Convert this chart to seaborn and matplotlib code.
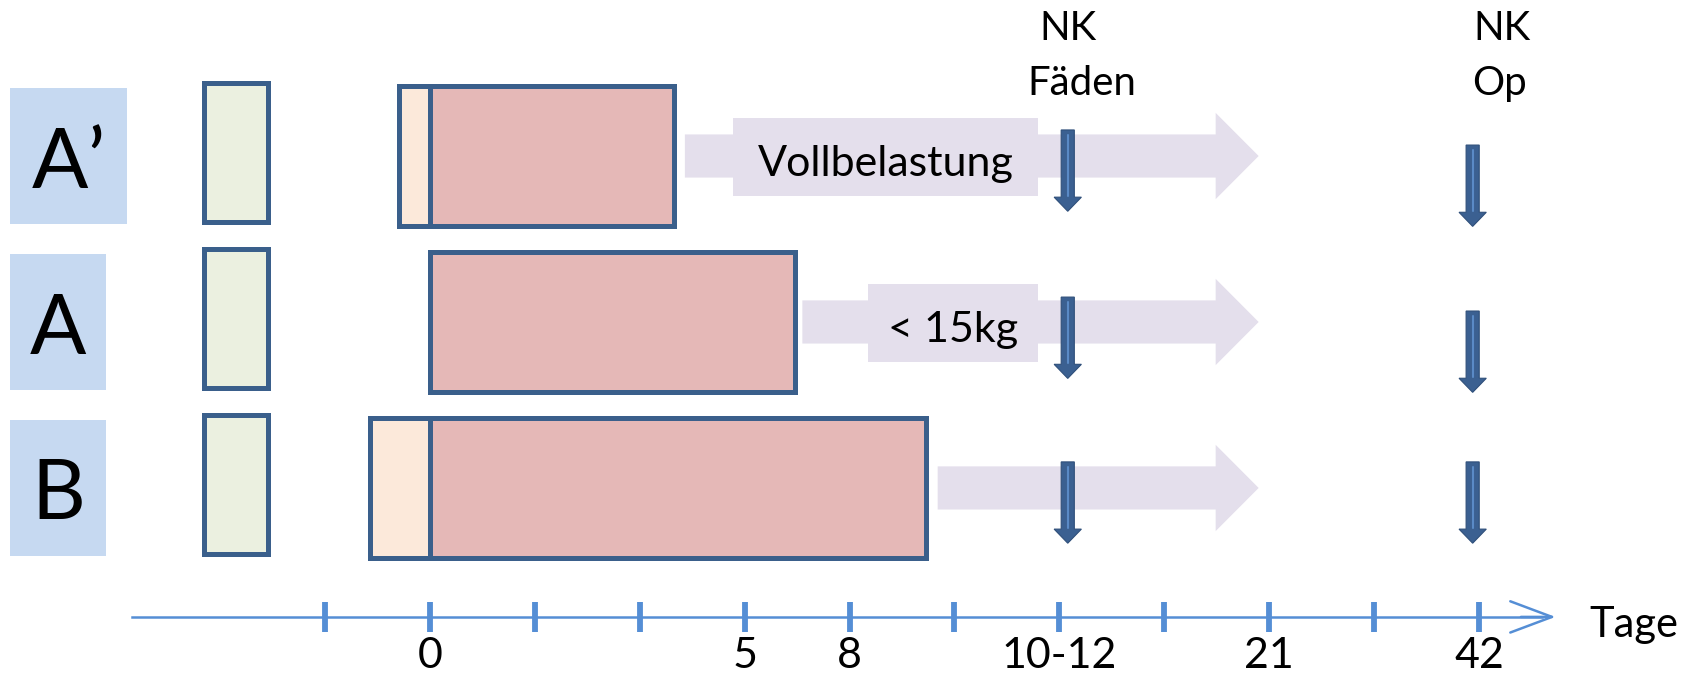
import pandas as pd
import seaborn as sns
import matplotlib.pyplot as plt
from matplotlib.patches import FancyArrow

# Zeilen des Schemas
rows = ["A’", "A", "B"]

# Vorbereitung (grüne Kästchen)
prep_start = [-2.15, -2.15, -2.15]
prep_end = [-1.54, -1.54, -1.54]

# Ruhigstellung: heller Teil vor Tag 0, roter Teil ab Tag 0
rest_start = [-0.30, 0.0, -0.57]
rest_end = [2.33, 3.48, 4.73]

# Belastung (große Pfeile)
load_start = [2.43, 3.55, 4.84]
load_end = [7.90, 7.90, 7.90]
load_text = ["Vollbelastung", "< 15kg", ""]
load_box_left = [2.89, 4.18, None]
load_box_right = [5.80, 5.80, None]

# Nachkontrollen (kleine Pfeile)
check_x = [6.08, 9.94]
check_titles = [["NK", "Fäden"], ["NK", "Op"]]
check_top = [[-0.157, -0.066], [-0.15, -0.066], [-0.157, -0.157]]

# Zeitachse
tick_pos = list(range(-1, 11))
tick_labels = ["", "0", "", "", "5", "8", "", "10-12", "", "21", "", "42"]

label_box_right = [-2.888, -3.089, -3.089]

sns.set_theme(style="white")
plt.rcParams["font.family"] = ["Lato", "DejaVu Sans"]
plt.rcParams["text.color"] = "black"
plt.rcParams["xtick.color"] = "black"

fig = plt.figure(figsize=(16.94, 6.75), dpi=100)
ax = fig.add_axes([0, 0, 1, 1])

edge = "#3A5F8B"
ypos = list(range(len(rows)))

df = pd.DataFrame({"row": rows, "start": rest_start, "end": rest_end})
sns.barplot(data=df, x="start", y="row", order=rows, orient="h", color="#FCE9DA",
            saturation=1, width=0.84, edgecolor=edge, linewidth=3.6, errorbar=None, ax=ax)
sns.barplot(data=df, x="end", y="row", order=rows, orient="h", color="#E5B8B7",
            saturation=1, width=0.84, edgecolor=edge, linewidth=3.6, errorbar=None, ax=ax)

# grüne Kästchen
ax.barh([y - 0.02 for y in ypos], [e - s for s, e in zip(prep_start, prep_end)],
        left=prep_start, height=0.84, color="#EBF0E0", edgecolor=edge, linewidth=3.6)

# blaue Beschriftungsfelder
ax.barh(ypos, [r + 4.004 for r in label_box_right], left=-4.004, height=0.82,
        color="#C6D9F1", linewidth=0)
for y, name, r in zip(ypos, rows, label_box_right):
    ax.text((r - 4.004) / 2, y + 0.19, name, ha="center", va="baseline", fontsize=60)

# große Pfeile
for y, s, e, t, bl, br in zip(ypos, load_start, load_end, load_text, load_box_left, load_box_right):
    ax.add_patch(FancyArrow(s, y, e - s, 0, width=0.26, head_width=0.52, head_length=0.41,
                            length_includes_head=True, color="#E4DFEC", lw=0, zorder=2))
    if bl is not None:
        ax.barh(y + 0.005, br - bl, left=bl, height=0.47, color="#E4DFEC", linewidth=0, zorder=2)
        ax.text((bl + br) / 2, y + 0.12, t, ha="center", va="baseline", fontsize=31, zorder=3)

# Nachkontroll-Pfeile
for y, tops in zip(ypos, check_top):
    for x, top in zip(check_x, tops):
        ax.add_patch(FancyArrow(x, y + top, 0, 0.49, width=0.125, head_width=0.26,
                                head_length=0.085, length_includes_head=True,
                                facecolor="#3B6091", edgecolor="#2F4F7A", lw=0.8, zorder=4))
        ax.plot([x, x], [y + top + 0.03, y + top + 0.40], color="#5A8AC6", lw=1.5, zorder=5)

ax.text(6.08, -0.70, check_titles[0][0], ha="center", va="baseline", fontsize=29)
ax.text(6.21, -0.367, check_titles[0][1], ha="center", va="baseline", fontsize=29)
ax.text(10.22, -0.70, check_titles[1][0], ha="center", va="baseline", fontsize=29)
ax.text(10.20, -0.367, check_titles[1][1], ha="center", va="baseline", fontsize=29)

# Zeitachse
axis_col = "#558ED5"
for side in ["top", "left", "right"]:
    ax.spines[side].set_visible(False)
ax.spines["bottom"].set_position(("data", 2.777))
ax.spines["bottom"].set_bounds(-2.84, 10.6)
ax.spines["bottom"].set_color(axis_col)
ax.spines["bottom"].set_linewidth(1.8)
ax.set_xticks(tick_pos)
ax.set_xticklabels(tick_labels)
ax.tick_params(axis="x", direction="inout", length=21, width=4.2, color=axis_col,
               labelsize=31, labelcolor="black", pad=4, bottom=True)
ax.set_yticks([])
ax.annotate("", xy=(10.73, 2.777), xytext=(10.4, 2.777),
            arrowprops=dict(arrowstyle="->,head_length=1.2,head_width=0.45",
                            color=axis_col, lw=1.8, mutation_scale=25, shrinkA=0, shrinkB=0))
ax.text(11.48, 2.90, "Tage", ha="center", va="baseline", fontsize=30)

ax.set_xlabel("")
ax.set_ylabel("")
ax.set_xlim(-4.099, 12.05)
ax.set_ylim(3.127, -0.94)

fig.savefig("out.png", dpi=100)
